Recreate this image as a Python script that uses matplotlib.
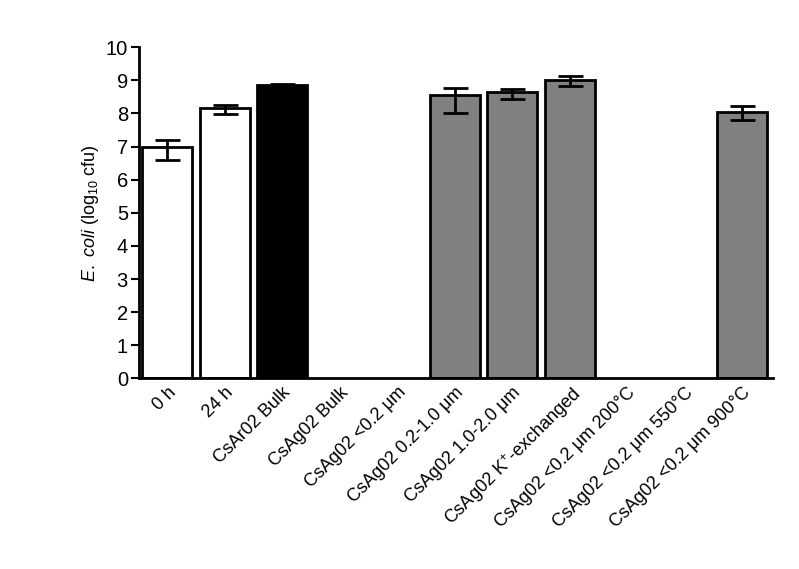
import matplotlib.pyplot as plt
import numpy as np

plt.rcParams['font.family'] = ['Liberation Sans', 'DejaVu Sans']
plt.rcParams['mathtext.fontset'] = 'custom'
plt.rcParams['mathtext.rm'] = 'Liberation Sans'
plt.rcParams['mathtext.it'] = 'Liberation Sans:italic'

# data (log10 cfu); nan = no bar shown
labels = ['0 h', '24 h', 'CsAr02 Bulk', 'CsAg02 Bulk', 'CsAg02 <0.2 \u03bcm',
          'CsAg02 0.2-1.0 \u03bcm', 'CsAg02 1.0-2.0 \u03bcm',
          'CsAg02 K$^{+}$-exchanged', 'CsAg02 <0.2 \u03bcm 200\u00b0C',
          'CsAg02 <0.2 \u03bcm 550\u00b0C', 'CsAg02 <0.2 \u03bcm 900\u00b0C']
means = [7.0, 8.17, 8.85, np.nan, np.nan, 8.55, 8.65, 9.0, np.nan, np.nan, 8.05]
err_low = [0.4, 0.2, 0.05, 0, 0, 0.55, 0.2, 0.18, 0, 0, 0.25]
err_high = [0.2, 0.1, 0.05, 0, 0, 0.22, 0.1, 0.12, 0, 0, 0.17]
colors = ['white', 'white', 'black', 'white', 'white', '#808080', '#808080',
          '#808080', '#808080', '#808080', '#808080']

fig = plt.figure(figsize=(7.99, 5.69), dpi=100)
ax = fig.add_axes([0.174, 0.335, 0.793, 0.582])

x = np.arange(len(labels))
vals = np.nan_to_num(means)
shown = ~np.isnan(means)

ax.bar(x[shown], vals[shown], width=0.87, color=np.array(colors)[shown],
       edgecolor='black', linewidth=2, zorder=2)
ax.errorbar(x[shown], vals[shown],
            yerr=[np.array(err_low)[shown], np.array(err_high)[shown]],
            fmt='none', ecolor='black', elinewidth=2, capsize=9,
            capthick=2, zorder=3)

ax.set_xlim(-0.49, 10.53)
ax.set_ylim(0, 10)
ax.set_yticks(range(0, 11))
ax.tick_params(axis='y', length=6, width=1.5, labelsize=14.5, pad=2)
ax.tick_params(axis='x', length=0, labelsize=13, pad=4)
ax.set_xticks(x)
ax.set_xticklabels(labels, rotation=45, ha='right', rotation_mode='anchor')

for s in ['top', 'right']:
    ax.spines[s].set_visible(False)
for s in ['left', 'bottom']:
    ax.spines[s].set_linewidth(2)

ax.set_ylabel(r'$\it{E.}$ $\it{coli}$ (log$_{10}$ cfu)', fontsize=13, labelpad=3)

fig.savefig('out.png', dpi=100)
